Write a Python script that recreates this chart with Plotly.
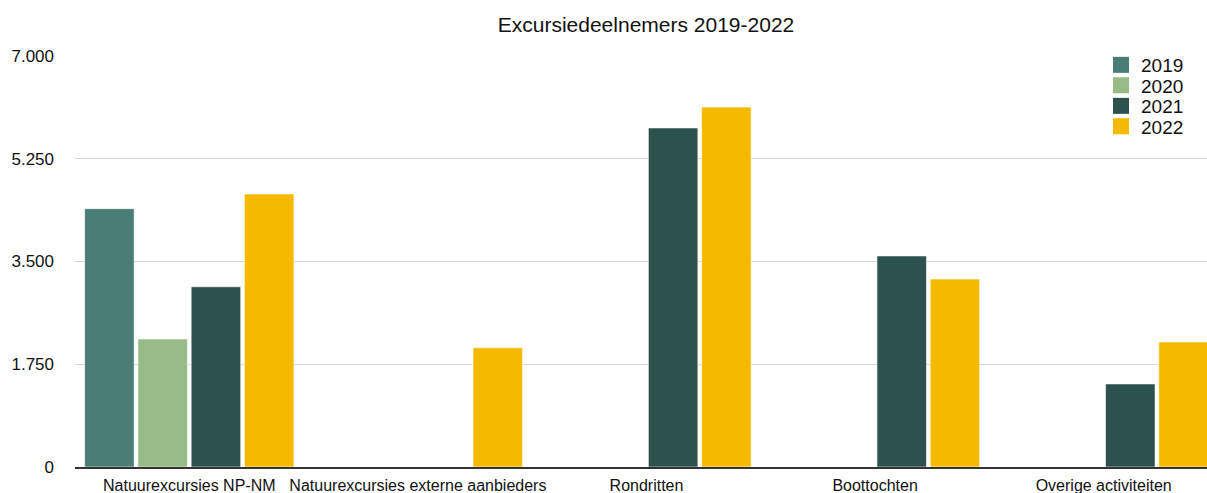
import plotly.graph_objects as go

categories = ["Natuurexcursies NP-NM", "Natuurexcursies externe aanbieders",
              "Rondritten", "Boottochten", "Overige activiteiten"]
years = ["2019", "2020", "2021", "2022"]
v2019 = [4400, None, None, None, None]
v2020 = [2180, None, None, None, None]
v2021 = [3070, None, 5775, 3595, 1415]
v2022 = [4650, 2030, 6130, 3200, 2130]
series = [v2019, v2020, v2021, v2022]
colors = ["#4a7d75", "#97bb86", "#2d514d", "#f5b900"]
ytickvals = [0, 1750, 3500, 5250, 7000]
yticktext = ["0", "1.750", "3.500", "5.250", "7.000"]

W, H = 1207, 493
ML, MR, MT, MB = 75, 0, 56, 26
PW, PH = W - ML - MR, H - MT - MB
legend_names = ["legend", "legend2", "legend3", "legend4"]
legend_rows = [65, 85.5, 106, 126.5]

fig = go.Figure()
for name, vals, col, lg in zip(years, series, colors, legend_names):
    fig.add_trace(go.Bar(name=name, x=categories, y=vals, showlegend=False,
                         marker=dict(color=col, line=dict(color="rgba(255,255,255,0.6)", width=1))))
    # legend-only swatch (square marker)
    fig.add_trace(go.Scatter(name=name, x=[None], y=[None], mode="markers", legend=lg,
                             marker=dict(symbol="square", size=16, color=col), showlegend=True))

legend_common = dict(xanchor="left", yanchor="middle",
                     font=dict(size=19, color="#111"), bgcolor="rgba(0,0,0,0)",
                     borderwidth=0, itemwidth=30)
layout_legends = {}
for lg, yc in zip(legend_names, legend_rows):
    layout_legends[lg] = dict(x=(1101 - ML) / PW, y=(H - MB - yc) / PH, **legend_common)

fig.update_layout(
    width=W, height=H,
    barmode="group", bargap=0.068, bargroupgap=0.07,
    paper_bgcolor="white", plot_bgcolor="white",
    margin=dict(l=ML, r=MR, t=MT, b=MB, autoexpand=False),
    font=dict(family="Liberation Sans, Arial, Helvetica, sans-serif", color="#111", size=16),
    title=dict(text="Excursiedeelnemers 2019-2022", x=646 / W, xanchor="center",
               y=1 - 25 / H, yanchor="middle", font=dict(size=21, color="#111")),
    **layout_legends,
)
fig.update_xaxes(range=[-0.5, 4.452], autorange=False, showline=True, linecolor="#333",
                 linewidth=2, ticks="", showgrid=False, tickfont=dict(size=16),
                 ticklabelstandoff=3, tickangle=0, automargin=False)
fig.update_yaxes(range=[0, 7000], autorange=False, tickvals=ytickvals, ticktext=yticktext,
                 showgrid=True, gridcolor="#d6d6d6", gridwidth=1, zeroline=False,
                 ticks="", tickfont=dict(size=17), ticklabelstandoff=20, automargin=False)

fig.write_html("out.html", config={"displayModeBar": False},
               post_script="document.body.style.margin='0';")
